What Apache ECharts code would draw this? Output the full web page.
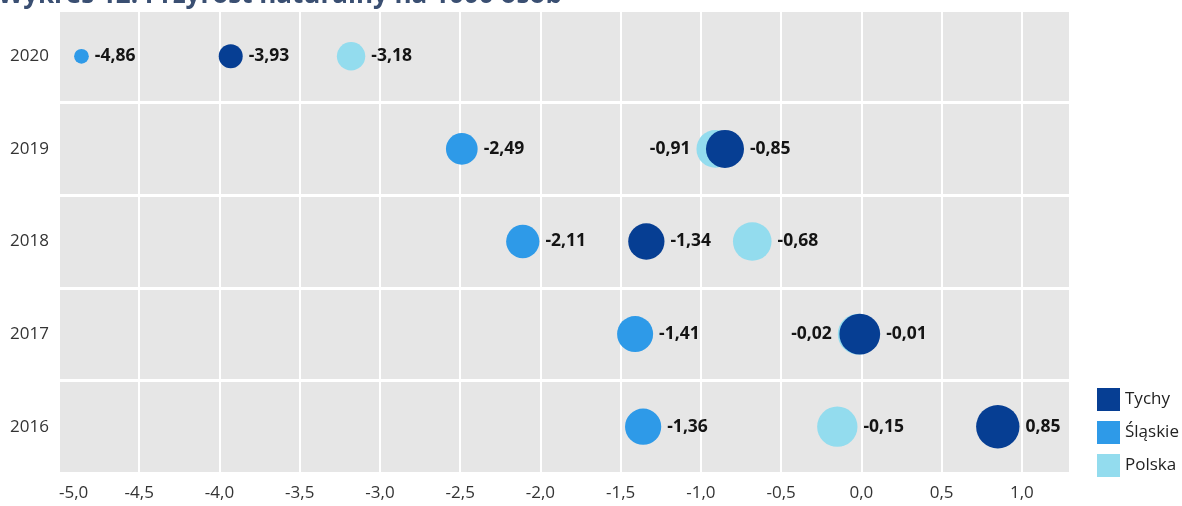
<!DOCTYPE html>
<html>
<head>
<meta charset="utf-8">
<script src="https://cdn.jsdelivr.net/npm/echarts@6/dist/echarts.min.js"></script>
<style>
html,body{margin:0;padding:0;background:#fff;}
#c{width:1182px;height:506px;}
</style>
</head>
<body>
<div id="c"></div>
<script>
const years = ['2016', '2017', '2018', '2019', '2020'];
const tychy = [0.85, -0.01, -1.34, -0.85, -3.93];
const slaskie = [-1.36, -1.41, -2.11, -2.49, -4.86];
const polska = [-0.15, -0.02, -0.68, -0.91, -3.18];
const seriesNames = ['Tychy', 'Śląskie', 'Polska'];
const colors = ['#063e93', '#2e9ae8', '#93dcee'];

function fmt(v, digits) {
  return v.toFixed(digits).replace('.', ',');
}
function bubbleSize(v) {
  return 9.5 + 14 * Math.sqrt(Math.max(v + 5.0, 0));
}
function makeData(values, idx) {
  return values.map(function (v, i) {
    const item = { value: [v, years[i]] };
    // label goes on the left when bubble overlaps the Tychy bubble
    if (idx === 2 && Math.abs(v - tychy[i]) < 0.1) {
      item.label = { position: 'left' };
    }
    return item;
  });
}

const chart = echarts.init(document.getElementById('c'));
const allValues = [tychy, slaskie, polska];
const zs = [5, 4, 3];
chart.setOption({
  animation: false,
  title: {
    text: 'Wykres 12. Przyrost naturalny na 1000 osób',
    left: -2,
    top: -17,
    padding: 0,
    textStyle: { fontFamily: 'Open Sans', fontSize: 26, fontWeight: 'bold', color: '#3a4f72' }
  },
  legend: {
    orient: 'vertical',
    left: 1092,
    top: 383,
    itemWidth: 23,
    itemHeight: 23,
    itemGap: 10,
    icon: 'rect',
    data: seriesNames,
    textStyle: { fontFamily: 'Open Sans', fontSize: 17, color: '#222' }
  },
  grid: {
    left: 59,
    right: 112,
    top: 10,
    bottom: 33,
    show: true,
    backgroundColor: '#e6e6e6',
    borderWidth: 0
  },
  xAxis: {
    type: 'value',
    min: -5,
    max: 1.3,
    interval: 0.5,
    axisLine: { show: false },
    axisTick: { show: false },
    splitLine: { show: true, lineStyle: { color: '#ffffff', width: 2 } },
    axisLabel: {
      showMaxLabel: false,
      alignMinLabel: 'left',
      margin: 12,
      fontFamily: 'Open Sans',
      fontSize: 17,
      color: '#333',
      formatter: function (v) { return fmt(v, 1); }
    }
  },
  yAxis: {
    type: 'category',
    data: years,
    axisLine: { show: false },
    axisTick: { show: false },
    splitLine: { show: true, lineStyle: { color: '#ffffff', width: 3 } },
    axisLabel: {
      margin: 10,
      fontFamily: 'Open Sans',
      fontSize: 17,
      color: '#333'
    }
  },
  series: seriesNames.map(function (name, idx) {
    return {
      name: name,
      type: 'scatter',
      z: zs[idx],
      data: makeData(allValues[idx], idx),
      symbolSize: function (val) { return bubbleSize(val[0]); },
      itemStyle: { color: colors[idx], opacity: 1 },
      label: {
        show: true,
        position: 'right',
        distance: 6,
        fontFamily: 'Open Sans',
        fontSize: 17.5,
        fontWeight: 'bold',
        color: '#141414',
        formatter: function (p) { return fmt(p.value[0], 2); }
      },
      emphasis: { disabled: true }
    };
  })
});
</script>
</body>
</html>
